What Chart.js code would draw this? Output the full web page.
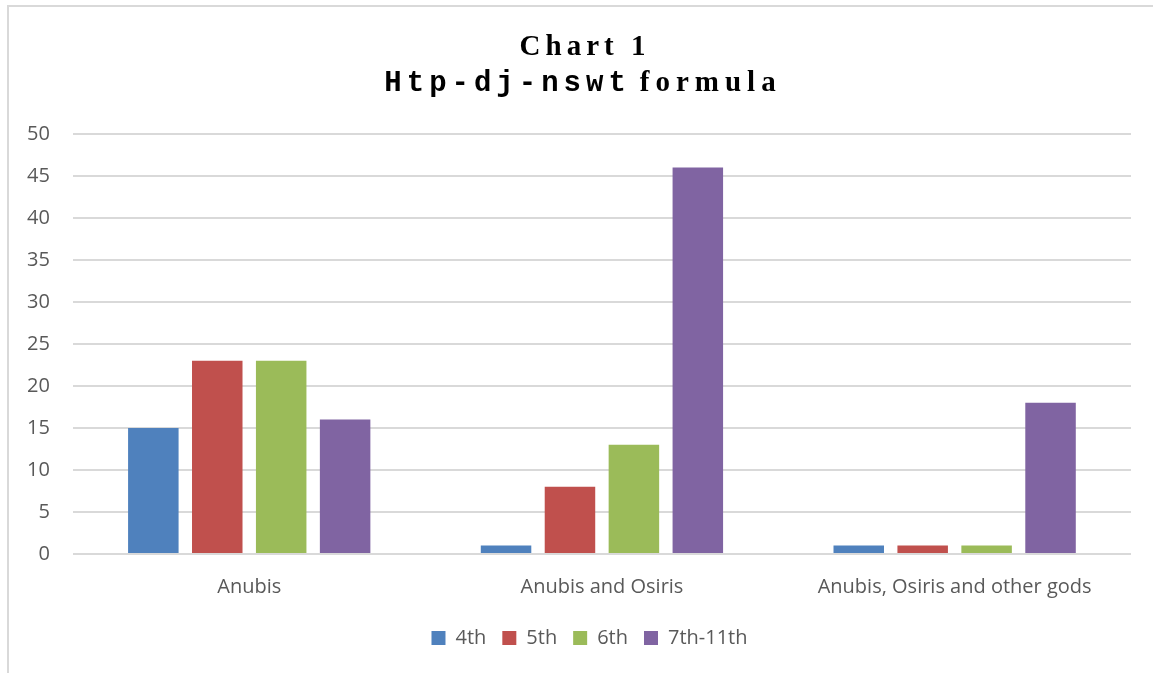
<!DOCTYPE html>
<html>
<head>
<meta charset="utf-8">
<script src="https://cdn.jsdelivr.net/npm/chart.js@4"></script>
<style>
html,body{margin:0;padding:0;background:#fff}
#wrap{position:relative;width:1153px;height:673px}
</style>
</head>
<body>
<div id="wrap"><canvas id="c"></canvas></div>
<script>
const categories=['Anubis','Anubis and Osiris','Anubis, Osiris and other gods']
const seriesNames=['4th','5th','6th','7th-11th']
const colors=['#4F81BD','#C0504D','#9BBB59','#8064A2']
const s4th=[15,1,1]
const s5th=[23,8,1]
const s6th=[23,13,1]
const s7th=[16,46,18]
const yTicks=[0,5,10,15,20,25,30,35,40,45,50]

// title with mixed fonts + outer frame lines
const deco={
  id:'deco',
  afterLayout(chart){
    // legend sits centred on the whole frame, not the plot
    chart.legend.left+=22
    chart.legend.right+=22
  },
  beforeDraw(chart){
    const c=chart.ctx
    c.save()
    c.fillStyle='#d9d9d9'
    c.fillRect(8,5,1145,2)
    c.fillRect(7,5,2,668)
    c.restore()
  },
  afterDraw(chart){
    const c=chart.ctx
    const mono='bold 29px "Liberation Mono", monospace'
    const serif='bold 29px "Liberation Serif", serif'
    c.save()
    c.fillStyle='#000'
    c.textBaseline='alphabetic'
    c.letterSpacing='5px'
    c.font=serif
    c.textAlign='center'
    c.fillText('Chart 1',585,55)
    c.textAlign='left'
    c.font=mono
    let p1='Htp-dj-nswt'
    let w1=c.measureText(p1).width
    c.letterSpacing='6px'
    c.font=serif
    let w2=c.measureText('formula').width
    let gap=9
    let x=583-(w1+gap+w2)/2
    c.letterSpacing='5px'
    c.font=mono
    c.fillText(p1,x,91)
    c.letterSpacing='6px'
    c.font=serif
    c.fillText('formula',x+w1+gap,91)
    c.restore()
  }
}

const series=[s4th,s5th,s6th,s7th]
new Chart(document.getElementById('c'),{
  type:'bar',
  data:{
    labels:categories,
    datasets:series.map((d,i)=>({
      label:seriesNames[i],
      data:d,
      backgroundColor:colors[i],
      categoryPercentage:0.725,
      barPercentage:0.79
    }))
  },
  options:{
    responsive:true,
    maintainAspectRatio:false,
    animation:false,
    layout:{padding:{top:134,right:22,left:4,bottom:15}},
    plugins:{
      title:{display:false},
      tooltip:{enabled:false},
      legend:{
        position:'bottom',
        labels:{
          boxWidth:14,boxHeight:14,
          padding:16,
          color:'#595959',
          font:{family:'"Open Sans", sans-serif',size:20}
        }
      }
    },
    scales:{
      x:{
        grid:{display:false},
        border:{display:false},
        ticks:{color:'#595959',padding:13,font:{family:'"Open Sans", sans-serif',size:20}}
      },
      y:{
        min:0,max:50,
        afterBuildTicks(ax){ax.ticks=yTicks.map(v=>({value:v}))},
        grid:{color:'#d9d9d9',lineWidth:2,drawTicks:false},
        border:{display:false},
        ticks:{color:'#595959',padding:23,font:{family:'"Open Sans", sans-serif',size:20}}
      }
    }
  },
  plugins:[deco]
})
</script>
</body>
</html>
